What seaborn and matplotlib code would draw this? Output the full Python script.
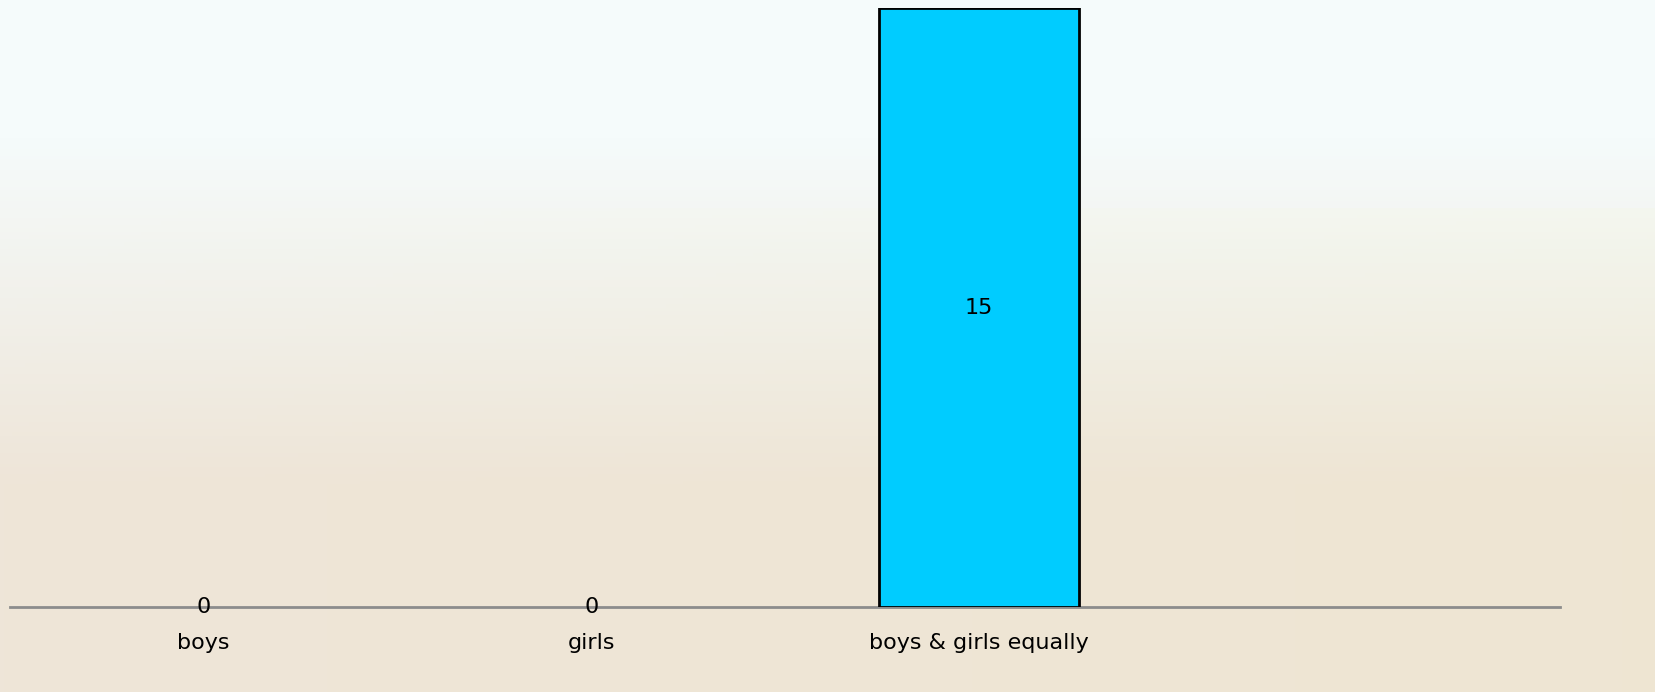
import numpy as np
import pandas as pd
import matplotlib
matplotlib.use("Agg")
import matplotlib.pyplot as plt
import seaborn as sns

# chart data
categories = ["boys", "girls", "boys & girls equally"]
counts = [0, 0, 15]

df = pd.DataFrame({"answer": categories, "count": counts})

sns.set_style("white")
plt.rcParams['font.family'] = ['DejaVu Sans']

fig = plt.figure(figsize=(16.55, 6.92), dpi=100)

# soft background wash (light cyan at top, beige towards the bottom)
bg = fig.add_axes([0, 0, 1, 1], zorder=-10)
bg.axis("off")
h, w = 200, 400
t = np.linspace(0, 1, h)[:, None]
s = np.linspace(0, 1, w)[None, :]
top = np.array([245, 251, 251]) / 255
bottom = np.array([238, 229, 216]) / 255
k = np.clip((t - 0.2) / 0.5, 0, 1)[..., None]
img = top * (1 - k) + bottom * k
img = img * np.ones((h, w, 1))
# slight green tint on the right side
img[..., 2] -= 0.02 * s * (t > 0.3)
bg.imshow(np.clip(img, 0, 1), aspect="auto", extent=[0, 1, 0, 1])
bg.set_xlim(0, 1)
bg.set_ylim(0, 1)

ax = fig.add_axes([10 / 1655, 85 / 692, 1550 / 1655, 599 / 692])
ax.patch.set_alpha(0)

sns.barplot(data=df, x="answer", y="count", color="#00CCFF", width=0.516,
            edgecolor="black", linewidth=2, saturation=1, ax=ax)

# empty bars get no outline
for patch in ax.patches:
    if patch.get_height() == 0:
        patch.set_linewidth(0)

ax.bar_label(ax.containers[0], labels=[str(v) for v in counts],
             label_type="center", fontsize=16, color="black")

ax.set_xlim(-0.5, 3.5)
ax.set_ylim(0, 15)
ax.set_xlabel("")
ax.set_ylabel("")
ax.set_yticks([])
ax.tick_params(axis="x", length=0, pad=19, labelsize=16, labelcolor="black")
for side in ["top", "right", "left"]:
    ax.spines[side].set_visible(False)
ax.spines["bottom"].set_color("#8c8c8c")
ax.spines["bottom"].set_linewidth(2)
ax.spines["bottom"].set_zorder(0.5)

fig.savefig("out.png", dpi=100)
